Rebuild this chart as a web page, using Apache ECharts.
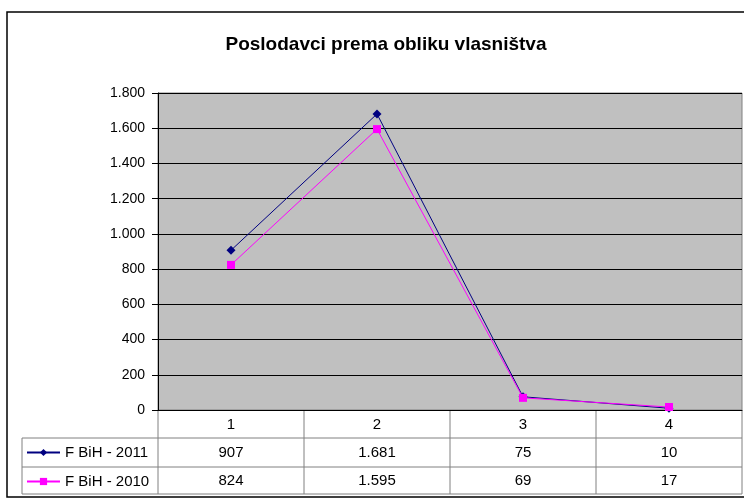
<!DOCTYPE html>
<html lang="bs">
<head>
    <meta charset="UTF-8">
    <title>Poslodavci prema obliku vlasništva</title>
    <script src="https://cdn.jsdelivr.net/npm/echarts@6/dist/echarts.min.js"></script>
    <style>
        html, body { margin: 0; padding: 0; background: #fff; }
        #main { width: 744px; height: 500px; }
    </style>
</head>
<body>
<div id="main"></div>
<script type="text/javascript">
    // podaci
    var categories = ['1', '2', '3', '4'];
    var seriesNames = ['F BiH - 2011', 'F BiH - 2010'];
    var values2011 = [907, 1681, 75, 10];
    var values2010 = [824, 1595, 69, 17];
    var yTicks = [0, 200, 400, 600, 800, 1000, 1200, 1400, 1600, 1800];

    // format s tačkom kao separatorom hiljada
    function fmt(v) {
        return String(v).replace(/\B(?=(\d{3})+(?!\d))/g, '.');
    }

    var font = '"Liberation Sans", Arial, sans-serif';
    var L = 158, T = 93, W = 584, H = 317;
    var row1 = 28, row2 = 29, row3 = 27;
    var tableTop = T + H;
    var gray = '#808080';

    var myChart = echarts.init(document.getElementById('main'));

    var tableLines = [];
    // vodoravne linije tabele
    [tableTop + row1, tableTop + row1 + row2, tableTop + row1 + row2 + row3].forEach(function (y) {
        tableLines.push({type: 'line', shape: {x1: 22, y1: y, x2: L + W, y2: y}, style: {stroke: gray, lineWidth: 1}});
    });
    // uspravne linije tabele
    for (var i = 0; i <= categories.length; i++) {
        var x = L + W * i / categories.length;
        tableLines.push({type: 'line', shape: {x1: x, y1: tableTop, x2: x, y2: tableTop + row1 + row2 + row3}, style: {stroke: gray, lineWidth: 1}});
    }
    tableLines.push({type: 'line', shape: {x1: 22, y1: tableTop + row1, x2: 22, y2: tableTop + row1 + row2 + row3}, style: {stroke: gray, lineWidth: 1}});

    var option = {
        animation: false,
        title: {
            text: 'Poslodavci prema obliku vlasništva',
            left: 381,
            textAlign: 'center',
            top: 30,
            textStyle: {fontFamily: font, fontSize: 19, fontWeight: 'bold', color: '#000'}
        },
        legend: {
            data: seriesNames,
            orient: 'vertical',
            left: 26,
            top: tableTop + row1 + 7,
            padding: 0,
            itemWidth: 33,
            itemHeight: 9,
            itemGap: 14,
            textStyle: {fontFamily: font, fontSize: 15, color: '#000', lineHeight: 15}
        },
        grid: {
            left: L, top: T, width: W, height: H,
            show: true,
            backgroundColor: '#C0C0C0',
            borderColor: gray,
            borderWidth: 1
        },
        xAxis: [
            {
                type: 'category', data: categories, boundaryGap: true, position: 'bottom',
                axisLine: {lineStyle: {color: '#000', width: 1}},
                axisTick: {show: false},
                axisLabel: {fontFamily: font, fontSize: 15, color: '#000', margin: 7}
            },
            {
                type: 'category', data: values2011.map(fmt), position: 'bottom', offset: row1,
                axisLine: {show: false}, axisTick: {show: false},
                axisLabel: {fontFamily: font, fontSize: 15, color: '#000', margin: 7}
            },
            {
                type: 'category', data: values2010.map(fmt), position: 'bottom', offset: row1 + row2,
                axisLine: {show: false}, axisTick: {show: false},
                axisLabel: {fontFamily: font, fontSize: 15, color: '#000', margin: 6}
            }
        ],
        yAxis: {
            type: 'value',
            min: yTicks[0],
            max: yTicks[yTicks.length - 1],
            interval: 200,
            axisLine: {show: true, lineStyle: {color: '#000'}},
            axisTick: {show: true, length: 6, lineStyle: {color: '#000'}},
            axisLabel: {fontFamily: font, fontSize: 14, color: '#000', margin: 13, formatter: fmt},
            splitLine: {show: true, lineStyle: {color: '#000', width: 1}}
        },
        series: [
            {
                name: seriesNames[0],
                type: 'line',
                data: values2011,
                symbol: 'diamond',
                symbolSize: 9,
                color: '#000080',
                lineStyle: {width: 1, color: '#000080'},
                itemStyle: {color: '#000080'}
            },
            {
                name: seriesNames[1],
                type: 'line',
                data: values2010,
                symbol: 'rect',
                symbolSize: 8,
                color: '#FF00FF',
                lineStyle: {width: 1, color: '#FF00FF'},
                itemStyle: {color: '#FF00FF'}
            }
        ],
        graphic: [
            {
                type: 'rect',
                shape: {x: 7, y: 12, width: 800, height: 485},
                style: {fill: null, stroke: '#000', lineWidth: 1.5},
                silent: true
            }
        ].concat(tableLines)
    };

    myChart.setOption(option);
</script>
</body>
</html>
